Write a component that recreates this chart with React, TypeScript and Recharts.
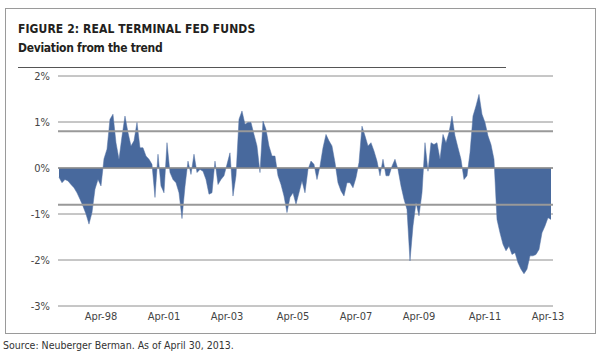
import React from 'react';
import { AreaChart, Area, XAxis, YAxis, CartesianGrid, ReferenceLine } from 'recharts';

// deviation from trend (%), sampled evenly across the period
const deviation: number[] = [
    -0.2, -0.32, -0.25, -0.28, -0.36, -0.43, -0.54, -0.68, -0.83, -1.0,
    -1.22, -0.97, -0.46, -0.25, -0.39, 0.2, 0.41, 1.06, 1.17, 0.55,
    0.19, 0.69, 1.13, 0.77, 0.48, 0.59, 0.99, 0.44, 0.44, 0.26,
    0.19, 0.08, -0.64, 0.3, -0.39, -0.54, 0.55, -0.1, -0.25, -0.32,
    -0.54, -1.1, -0.4, 0.15, -0.14, 0.3, -0.1, -0.03, -0.07, -0.25,
    -0.57, -0.54, 0.15, -0.36, -0.25, -0.17, 0.08, 0.33, -0.61, -0.17,
    1.06, 1.24, 0.95, 0.99, 0.99, 0.73, 0.48, -0.1, 1.02, 0.84,
    0.48, 0.26, 0.26, -0.17, -0.36, -0.61, -0.97, -0.64, -0.54, -0.79,
    -0.54, -0.28, -0.54, -0.03, 0.15, 0.08, -0.25, 0.04, 0.44, 0.73,
    0.59, 0.48, 0.12, -0.32, -0.5, -0.61, -0.32, -0.32, -0.43, -0.21,
    0.12, 0.91, 0.7, 0.48, 0.55, 0.37, 0.15, -0.17, 0.19, -0.17,
    -0.17, 0.04, 0.19, -0.03, -0.39, -0.68, -0.9, -2.02, -1.26, -0.75,
    -1.04, -0.54, 0.55, -0.07, 0.55, 0.51, 0.55, 0.19, 0.73, 0.55,
    0.77, 1.13, 0.7, 0.44, 0.19, -0.25, -0.17, 0.33, 1.13, 1.35,
    1.6, 1.17, 0.99, 0.7, 0.51, 0.19, -1.12, -1.41, -1.66, -1.8,
    -1.7, -1.88, -1.84, -2.06, -2.2, -2.3, -2.2, -1.91, -1.91, -1.88,
    -1.77, -1.41, -1.26, -1.08, -1.12,
];

const xTickIndex = [14, 35, 56, 78, 99, 120, 142, 163];
const xTickLabels = ['Apr-98', 'Apr-01', 'Apr-03', 'Apr-05', 'Apr-07', 'Apr-09', 'Apr-11', 'Apr-13'];
const yTicks = [-3, -2, -1, 0, 1, 2];
const bandLevels = [0.8, -0.8];

const FONT = "'Liberation Sans Narrow', 'DejaVu Sans Condensed', sans-serif";

const data = deviation.map((v, i) => ({ idx: i, value: v }));

export default function App() {
    return (
        <div
            style={{
                position: 'absolute',
                left: 0,
                top: 0,
                width: 601,
                height: 357,
                background: '#fff',
                fontFamily: FONT,
            }}
        >
            <div
                style={{
                    position: 'absolute',
                    left: 5,
                    top: 8,
                    width: 589,
                    height: 324,
                    border: '1px solid #9a9a9a',
                }}
            />
            <div
                style={{
                    position: 'absolute',
                    left: 18,
                    top: 22,
                    fontSize: 12,
                    fontWeight: 'bold',
                    letterSpacing: 0.1,
                    color: '#231f20',
                }}
            >
                FIGURE 2: REAL TERMINAL FED FUNDS
            </div>
            <div
                style={{
                    position: 'absolute',
                    left: 18,
                    top: 41,
                    fontSize: 12,
                    fontWeight: 'bold',
                    letterSpacing: -0.3,
                    color: '#231f20',
                }}
            >
                Deviation from the trend
            </div>
            <div
                style={{
                    position: 'absolute',
                    left: 18,
                    top: 67,
                    width: 488,
                    height: 1,
                    background: '#555',
                }}
            />
            <div style={{ position: 'absolute', left: 0, top: 0 }}>
                <AreaChart
                    width={601}
                    height={357}
                    data={data}
                    margin={{ top: 76, right: 48, bottom: 21, left: 8 }}
                >
                    <CartesianGrid
                        vertical={false}
                        stroke="#8e8e8e"
                        strokeWidth={1}
                    />
                    <XAxis
                        dataKey="idx"
                        type="number"
                        domain={[-0.33, 164.67]}
                        ticks={xTickIndex}
                        tickFormatter={(v: number) => xTickLabels[xTickIndex.indexOf(v)] ?? ''}
                        axisLine={false}
                        tickLine={false}
                        tickSize={4}
                        height={30}
                        tick={{ fontSize: 11, fill: '#444', fontFamily: FONT }}
                        interval={0}
                    />
                    <YAxis
                        type="number"
                        domain={[-3, 2]}
                        ticks={yTicks}
                        tickFormatter={(v: number) => `${v}%`}
                        axisLine={false}
                        tickLine={false}
                        width={50}
                        tick={{ fontSize: 11, fill: '#444', fontFamily: FONT }}
                        interval={0}
                    />
                    <Area
                        type="linear"
                        dataKey="value"
                        stroke="#5573a4"
                        strokeWidth={0.5}
                        fill="#48699d"
                        fillOpacity={1}
                        isAnimationActive={false}
                        dot={false}
                        activeDot={false}
                    />
                    <ReferenceLine y={0} stroke="#8e8e8e" strokeWidth={1.5} />
                    {bandLevels.map((lvl) => (
                        <ReferenceLine key={lvl} y={lvl} stroke="#999" strokeWidth={2} />
                    ))}
                </AreaChart>
            </div>
            <div
                style={{
                    position: 'absolute',
                    left: 3,
                    top: 339,
                    fontSize: 10.5,
                    color: '#333',
                }}
            >
                Source: Neuberger Berman. As of April 30, 2013.
            </div>
        </div>
    );
}
